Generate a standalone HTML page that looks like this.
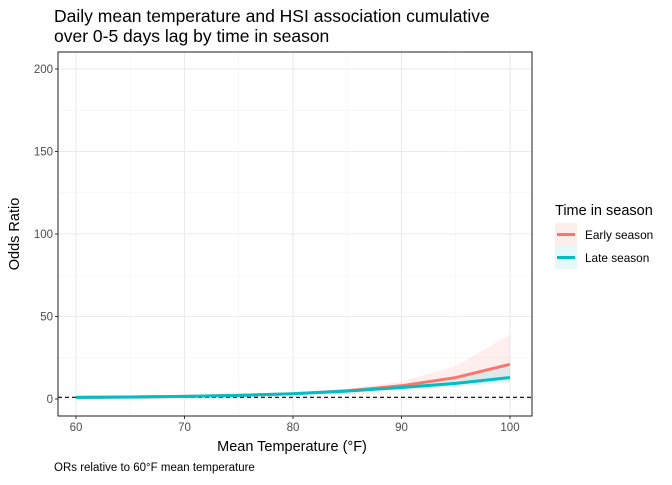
<!DOCTYPE html>
<html><head><meta charset="utf-8"><style>
body{margin:0;background:#fff;font-family:"Liberation Sans",Arial,sans-serif}
svg text{font-family:"Liberation Sans",Arial,sans-serif}
</style></head><body>
<svg id="chart" width="672" height="480" xmlns="http://www.w3.org/2000/svg">
<text x="54" y="22" font-size="17.5" fill="#000">Daily mean temperature and HSI association cumulative</text>
<text x="54" y="42" font-size="17.5" fill="#000">over 0-5 days lag by time in season</text>
<g id="grid"></g>
<g id="marks"></g>
<rect x="58" y="52" width="474" height="364" fill="none" stroke="#333" stroke-width="1.1"/>
<g id="axes"></g>
<text x="292" y="451" font-size="14.5" text-anchor="middle">Mean Temperature (°F)</text>
<text transform="translate(19,234) rotate(-90)" font-size="14.5" text-anchor="middle">Odds Ratio</text>
<text x="54" y="471" font-size="11.5">ORs relative to 60°F mean temperature</text>
<g>
<text x="555" y="215" font-size="14.5">Time in season</text>
<g>
<rect x="555" y="223" width="22" height="23" fill="#fdeeec"/>
<line x1="557" y1="234.5" x2="575" y2="234.5" stroke="#F8766D" stroke-width="3"/>
<text x="585" y="239" font-size="11.8">Early season</text></g>
<g>
<rect x="555" y="246" width="22" height="23" fill="#e6f8f8"/>
<line x1="557" y1="257.5" x2="575" y2="257.5" stroke="#00BFC4" stroke-width="3"/>
<text x="585" y="262" font-size="11.8">Late season</text></g>
</g>
</svg>
<script>
const temps=[60,65,70,75,80,85,90,95,100];
const earlyOR=[1,1.2,1.6,2.2,3.2,5,8,13,21];
const earlyHi=[1,1.3,1.8,2.6,3.8,6.2,10.5,20,39];
const earlyLo=[1,1.1,1.4,1.9,2.7,4,6,8.5,11];
const lateOR=[1,1.2,1.6,2.2,3.2,4.8,7,9.5,13];
const lateHi=[1,1.3,1.8,2.5,3.6,5.5,8.5,13,19];
const lateLo=[1,1.1,1.4,1.9,2.8,4.2,5.8,7.5,10];
const xTicks=[60,70,80,90,100];
const yTicks=[0,50,100,150,200];
const refOR=1;
const X=v=>76+(v-60)*10.85, Y=v=>399-v*1.65;
const NS="http://www.w3.org/2000/svg";
function mk(parent,tag,attrs){const e=document.createElementNS(NS,tag);for(const k in attrs)e.setAttribute(k,attrs[k]);document.getElementById(parent).appendChild(e);return e;}
for(let i=0;i<yTicks.length;i++){
 const l=mk('grid','line',{x1:58,x2:532,y1:Y(yTicks[i]),y2:Y(yTicks[i]),stroke:'#ebebeb','stroke-width':1.1});
 
 
 if(i<yTicks.length-1){const m=mk('grid','line',{x1:58,x2:532,y1:Y((yTicks[i]+yTicks[i+1])/2),y2:Y((yTicks[i]+yTicks[i+1])/2),stroke:'#f2f2f2','stroke-width':0.6});
 
 }
 const t=mk('axes','text',{x:53,y:Y(yTicks[i])+4,'font-size':11.5,fill:'#4d4d4d','text-anchor':'end'});t.textContent=yTicks[i];
 
 
 const tk=mk('axes','line',{x1:55,x2:58,y1:Y(yTicks[i]),y2:Y(yTicks[i]),stroke:'#333'});
 
 
}
for(let i=0;i<xTicks.length;i++){
 const l=mk('grid','line',{y1:52,y2:416,x1:X(xTicks[i]),x2:X(xTicks[i]),stroke:'#ebebeb','stroke-width':1.1});
 
 
 if(i<xTicks.length-1){const m=mk('grid','line',{y1:52,y2:416,x1:X((xTicks[i]+xTicks[i+1])/2),x2:X((xTicks[i]+xTicks[i+1])/2),stroke:'#f2f2f2','stroke-width':0.6});
 
 }
 const t=mk('axes','text',{x:X(xTicks[i]),y:431,'font-size':11.5,fill:'#4d4d4d','text-anchor':'middle'});t.textContent=xTicks[i];
 
 
 const tk=mk('axes','line',{y1:416,y2:419,x1:X(xTicks[i]),x2:X(xTicks[i]),stroke:'#333'});
 
 
}
function band(hi,lo,fill,name){
 let d='M'+temps.map((t,i)=>X(t)+','+Y(hi[i])).join('L');
 d+='L'+temps.map((t,i)=>[X(t),Y(lo[i])]).reverse().map(p=>p.join(',')).join('L')+'Z';
 const p=mk('marks','path',{d:d,fill:fill,'fill-opacity':0.12});
 
 
}
function line(v,col,name){
 const p=mk('marks','polyline',{points:temps.map((t,i)=>X(t)+','+Y(v[i])).join(' '),fill:'none',stroke:col,'stroke-width':3});
 
 
}
band(earlyHi,earlyLo,'#F8766D','early-season-ci-band');
band(lateHi,lateLo,'#00BFC4','late-season-ci-band');
const ref=mk('marks','line',{x1:58,x2:532,y1:Y(refOR),y2:Y(refOR),stroke:'#000','stroke-dasharray':'4,3','stroke-width':1.1});


line(earlyOR,'#F8766D','early-season-line');
line(lateOR,'#00BFC4','late-season-line');
</script>
</body></html>
